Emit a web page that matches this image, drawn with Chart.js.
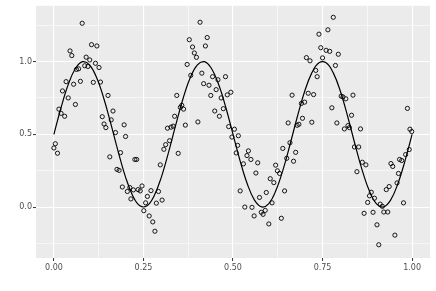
<!DOCTYPE html>
<html>
<head>
<meta charset="utf-8">
<script src="https://cdn.jsdelivr.net/npm/chart.js@4.4.0/dist/chart.umd.min.js"></script>
<style>
  body { margin: 0; background: #fff; }
  canvas { display: block; }
</style>
</head>
<body>
<canvas id="chart" width="436" height="291"></canvas>
<script>
const obsX = [0.079,0.105,0.120,0.045,0.050,0.090,0.100,0.116,0.086,0.095,
  0.126,0.069,0.063,0.034,0.074,0.110,0.130,0.055,0.024,0.151,
  0.040,0.060,0.014,0.165,0.020,0.030,0.135,0.160,0.140,0.145,
  0.196,0.172,0.004,0.000,0.010,0.200,0.156,0.186,0.226,0.231,
  0.176,0.182,0.191,0.205,0.212,0.222,0.235,0.215,0.241,0.246,
  0.261,0.271,0.256,0.251,0.266,0.276,0.282,0.286,0.292,0.302,
  0.297,0.307,0.312,0.323,0.347,0.317,0.327,0.333,0.367,0.488,
  0.504,0.497,0.515,0.509,0.520,0.408,0.378,0.428,0.387,0.423,
  0.392,0.398,0.372,0.382,0.413,0.443,0.458,0.479,0.418,0.433,
  0.453,0.494,0.484,0.343,0.438,0.467,0.357,0.353,0.362,0.473,
  0.449,0.337,0.462,0.402,0.780,0.740,0.765,0.745,0.760,0.770,
  0.794,0.705,0.715,0.750,0.786,0.731,0.735,0.710,0.725,0.665,
  0.691,0.700,0.776,0.654,0.679,0.684,0.694,0.720,0.790,0.513,
  0.529,0.543,0.539,0.550,0.569,0.564,0.574,0.533,0.553,0.559,
  0.579,0.584,0.590,0.593,0.600,0.609,0.604,0.614,0.619,0.624,
  0.630,0.635,0.644,0.639,0.650,0.659,0.669,0.675,0.802,0.807,
  0.815,0.835,0.987,0.831,0.821,0.811,0.825,0.856,0.994,0.999,
  0.839,0.851,0.861,0.871,0.846,0.992,0.982,0.965,0.971,0.941,
  0.946,0.962,0.958,0.936,0.928,0.886,0.881,0.895,0.876,0.911,
  0.917,0.866,0.891,0.921,0.932,0.976,0.902,0.952,0.907];

const obsY = [1.263,1.116,1.107,1.073,1.041,1.030,1.011,0.988,0.971,0.966,
  0.959,0.950,0.946,0.862,0.864,0.857,0.859,0.844,0.798,0.767,
  0.750,0.705,0.673,0.660,0.644,0.624,0.621,0.599,0.571,0.546,
  0.565,0.512,0.435,0.406,0.370,0.485,0.345,0.374,0.327,0.327,
  0.259,0.252,0.138,0.107,0.134,0.118,0.120,0.056,0.111,0.145,
  0.073,0.113,0.029,-0.025,-0.061,-0.102,-0.166,0.027,0.107,0.048,
  0.290,0.397,0.429,0.456,0.369,0.542,0.549,0.556,0.563,0.553,
  0.535,0.481,0.490,0.372,0.111,1.270,1.150,1.165,1.100,1.107,
  1.059,1.029,0.980,0.905,0.920,0.896,0.875,0.896,0.848,0.837,
  0.807,0.789,0.771,0.767,0.767,0.750,0.699,0.685,0.673,0.676,
  0.660,0.624,0.624,0.585,1.304,1.188,1.218,1.095,1.077,1.070,
  1.050,1.027,1.005,1.025,0.973,0.939,0.896,0.782,0.773,0.769,
  0.712,0.721,0.682,0.578,0.562,0.569,0.610,0.583,0.578,0.424,
  0.297,0.386,0.354,0.327,0.304,0.234,0.066,0.000,-0.002,-0.061,
  -0.036,-0.050,-0.023,0.100,-0.116,0.029,0.195,0.168,0.288,0.249,
  0.231,-0.077,0.111,0.403,0.335,0.442,0.315,0.376,0.762,0.757,
  0.744,0.769,0.678,0.631,0.560,0.537,0.546,0.537,0.535,0.519,
  0.413,0.413,0.308,0.290,0.243,0.395,0.361,0.327,0.320,0.299,
  0.279,0.231,0.166,0.141,0.120,0.102,0.077,0.061,0.032,0.020,
  0.005,-0.043,-0.036,-0.034,-0.034,0.029,-0.122,-0.193,-0.259];

// the smooth curve, read at steps of 0.02
const lineX = [0.00,0.02,0.04,0.06,0.08,0.10,0.12,0.14,0.16,0.18,
  0.20,0.22,0.24,0.26,0.28,0.30,0.32,0.34,0.36,0.38,
  0.40,0.42,0.44,0.46,0.48,0.50,0.52,0.54,0.56,0.58,
  0.60,0.62,0.64,0.66,0.68,0.70,0.72,0.74,0.76,0.78,
  0.80,0.82,0.84,0.86,0.88,0.90,0.92,0.94,0.96,0.98,1.00];
const lineY = [0.500,0.684,0.842,0.952,0.999,0.976,0.885,0.741,0.563,0.376,
  0.206,0.078,0.009,0.009,0.078,0.206,0.376,0.563,0.741,0.885,
  0.976,0.999,0.952,0.842,0.684,0.500,0.316,0.158,0.048,0.001,
  0.024,0.115,0.259,0.437,0.624,0.794,0.922,0.991,0.991,0.922,
  0.794,0.624,0.437,0.259,0.115,0.024,0.001,0.048,0.158,0.316,0.500];

const xBreaks = [0, 0.25, 0.5, 0.75, 1];
const xMinor = [0.125, 0.375, 0.625, 0.875];
const yBreaks = [0, 0.5, 1];
const yMinor = [-0.25, 0.25, 0.75, 1.25];

const isIn = (arr, v) => arr.some(b => Math.abs(b - v) < 1e-9);

function gridFor(major) {
  return {
    color: '#ffffff',
    lineWidth: ctx => (ctx.tick && isIn(major, ctx.tick.value)) ? 1.1 : 0.55,
    tickColor: ctx => (ctx.tick && isIn(major, ctx.tick.value)) ? '#333333' : 'rgba(0,0,0,0)',
    tickWidth: 1,
    tickLength: 3
  };
}

const panelBg = {
  id: 'panelBg',
  beforeDraw(chart) {
    const {ctx, chartArea: a} = chart;
    ctx.save();
    ctx.fillStyle = '#EBEBEB';
    ctx.fillRect(a.left, a.top, a.right - a.left, a.bottom - a.top);
    ctx.restore();
  }
};

Chart.defaults.font.family = "'DejaVu Sans', sans-serif";
Chart.defaults.font.size = 8;
Chart.defaults.color = '#4D4D4D';

new Chart(document.getElementById('chart'), {
  type: 'scatter',
  data: {
    datasets: [
      {
        data: lineX.map((x, i) => ({x: x, y: lineY[i]})),
        showLine: true,
        borderColor: '#000000',
        borderWidth: 1.2,
        pointRadius: 0,
        tension: 0.4,
        fill: false
      },
      {
        data: obsX.map((x, i) => ({x: x, y: obsY[i]})),
        pointRadius: 2.1,
        borderWidth: 0.9,
        borderColor: '#000000',
        backgroundColor: 'rgba(0,0,0,0)'
      }
    ]
  },
  options: {
    responsive: false,
    animation: false,
    devicePixelRatio: 1,
    layout: {padding: {left: 0, right: 6, top: 5, bottom: 0}},
    plugins: {legend: {display: false}, tooltip: {enabled: false}},
    scales: {
      x: {
        type: 'linear',
        min: -0.05,
        max: 1.05,
        border: {display: false},
        grid: gridFor(xBreaks),
        afterBuildTicks: s => {
          s.ticks = xBreaks.concat(xMinor).sort((a, b) => a - b).map(v => ({value: v}));
        },
        afterFit: s => { s.height = 33; },
        ticks: {
          autoSkip: false,
          maxRotation: 0,
          padding: 2,
          callback: v => isIn(xBreaks, v) ? v.toFixed(2) : ''
        }
      },
      y: {
        type: 'linear',
        min: -0.35,
        max: 1.383,
        border: {display: false},
        grid: gridFor(yBreaks),
        afterBuildTicks: s => {
          s.ticks = yBreaks.concat(yMinor).sort((a, b) => a - b).map(v => ({value: v}));
        },
        afterFit: s => { s.width = 36; },
        ticks: {
          autoSkip: false,
          padding: 1,
          callback: v => isIn(yBreaks, v) ? v.toFixed(1) : ''
        }
      }
    }
  },
  plugins: [panelBg]
});
</script>
</body>
</html>
